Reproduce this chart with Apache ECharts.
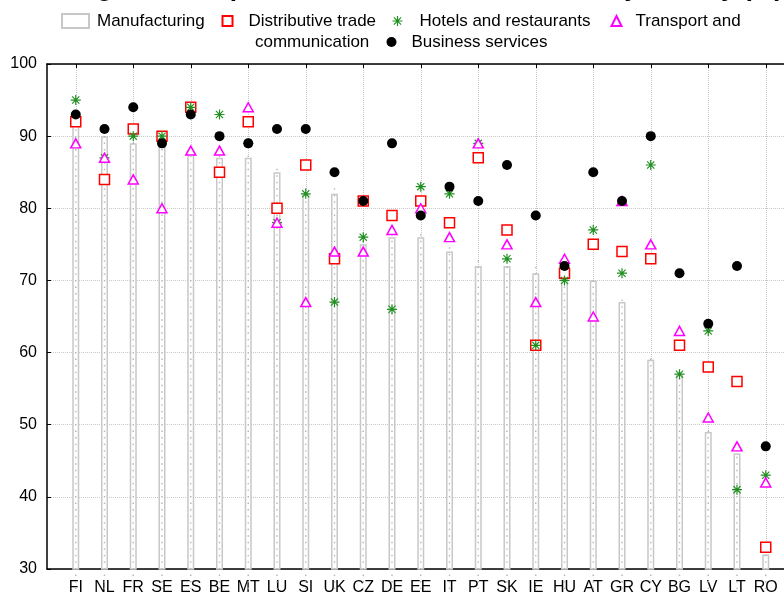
<!DOCTYPE html>
<html>
<head>
<meta charset="utf-8">
<script src="https://cdn.jsdelivr.net/npm/echarts@6/dist/echarts.min.js"></script>
<style>
  html, body { margin: 0; padding: 0; background: #fff; }
  #chart { width: 784px; height: 592px; }
</style>
</head>
<body>
<div id="chart"></div>
<script>
// countries along the x axis
const countries = ['FI', 'NL', 'FR', 'SE', 'ES', 'BE', 'MT', 'LU', 'SI', 'UK', 'CZ', 'DE', 'EE',
  'IT', 'PT', 'SK', 'IE', 'HU', 'AT', 'GR', 'CY', 'BG', 'LV', 'LT', 'RO'];

// values (%) per sector
const manufacturing = [92, 90, 89, 89, 88, 87, 87, 85, 82, 82, 75, 76, 76, 74, 72, 72, 71, 71, 70, 67, 59, 57, 49, 46, 32];
const distributive = [92, 84, 91, 90, 94, 85, 92, 80, 86, 73, 81, 79, 81, 78, 87, 77, 61, 71, 75, 74, 73, 61, 58, 56, 33];
const hotels = [95, 87, 90, 90, 94, 93, 89, 78, 82, 67, 76, 66, 83, 82, 89, 73, 61, 70, 77, 71, 86, 57, 63, 41, 43];
const transport = [89, 87, 84, 80, 88, 88, 94, 78, 67, 74, 74, 77, 80, 76, 89, 75, 67, 73, 65, 81, 75, 63, 51, 47, 42];
const business = [93, 91, 94, 89, 93, 90, 89, 91, 91, 85, 81, 89, 79, 83, 81, 86, 79, 72, 85, 81, 90, 71, 64, 72, 47];

const yMin = 30, yMax = 100, yStep = 10;

// one empty slot on each side so the first/last country sit a full step from the frame
const pad = arr => ['-', ...arr, '-'];
const cats = ['', ...countries, ''];
const everyOther = idx => idx % 2 === 1;

const FONT = '"Liberation Sans", Arial, sans-serif';
const GRID_COLOR = '#c8c8c8';
const ASTERISK = 'path://M0 4.4H10V5.6H0Z M4.4 0H5.6V10H4.4Z M1 1.8L1.8 1L9 8.2L8.2 9Z M8.2 1L9 1.8L1.8 9L1 8.2Z';

const legendText = { color: '#000', fontSize: 17, fontFamily: FONT };

const myChart = echarts.init(document.getElementById('chart'), null, { renderer: 'canvas' });
myChart.setOption({
  animation: false,
  backgroundColor: '#fff',
  title: {
    text: 'Percentage of enterprises with broadband access by activity (%)',
    left: -18,
    top: -29,
    textStyle: { fontSize: 26, fontWeight: 'bold', fontFamily: FONT, color: '#000' }
  },
  legend: [
    {
      data: [{ name: 'Manufacturing', icon: 'rect' }],
      left: 61, top: 12.5, padding: 0,
      itemWidth: 27, itemHeight: 14,
      textStyle: Object.assign({ padding: [0, 0, 0, 3] }, legendText)
    },
    {
      data: ['Distributive trade'],
      left: 221.5, top: 12.5, padding: 0,
      itemWidth: 10, itemHeight: 10,
      textStyle: Object.assign({ padding: [0, 0, 0, 11] }, legendText)
    },
    {
      data: ['Hotels and restaurants'],
      left: 392.5, top: 12.5, padding: 0,
      itemWidth: 10, itemHeight: 10,
      textStyle: Object.assign({ padding: [0, 0, 0, 12] }, legendText)
    },
    {
      data: ['Transport and communication'],
      left: 610.5, top: 12.5, padding: 0,
      itemWidth: 10, itemHeight: 10,
      formatter: () => 'Transport and',
      textStyle: Object.assign({ padding: [0, 0, 0, 9] }, legendText)
    },
    {
      data: ['Business services'],
      left: 386.5, top: 33.5, padding: 0,
      itemWidth: 10, itemHeight: 10,
      textStyle: Object.assign({ padding: [0, 0, 0, 10] }, legendText)
    }
  ],
  graphic: [{
    type: 'text',
    left: 255,
    top: 33.5,
    style: { text: 'communication', fill: '#000', fontSize: 17, fontFamily: FONT }
  }],
  grid: { left: 47, top: 64, bottom: 23, right: -10.5, containLabel: false, outerBoundsMode: 'none' },
  xAxis: [
    {
      type: 'category',
      data: cats,
      boundaryGap: false,
      position: 'bottom',
      axisLine: { lineStyle: { color: '#000', width: 1.5 } },
      axisTick: { inside: true, length: 4, interval: everyOther, lineStyle: { color: '#000' } },
      axisLabel: { interval: 0, margin: 11, color: '#000', fontSize: 16, fontFamily: FONT },
      splitLine: { show: true, interval: everyOther, lineStyle: { color: GRID_COLOR, type: 'dotted', width: 1 } }
    },
    {
      type: 'category',
      data: cats,
      boundaryGap: false,
      position: 'top',
      axisLine: { lineStyle: { color: '#000', width: 1.5 } },
      axisTick: { inside: true, length: 4, interval: everyOther, lineStyle: { color: '#000' } },
      axisLabel: { show: false },
      splitLine: { show: false }
    }
  ],
  yAxis: {
    type: 'value',
    min: yMin,
    max: yMax,
    interval: yStep,
    axisLine: { show: true, lineStyle: { color: '#000', width: 1.5 } },
    axisTick: { show: true, inside: true, length: 4, lineStyle: { color: '#000' } },
    axisLabel: { color: '#000', fontSize: 16, fontFamily: FONT, margin: 10 },
    splitLine: { show: true, lineStyle: { color: GRID_COLOR, type: 'dotted', width: 1 } }
  },
  series: [
    {
      name: 'Manufacturing',
      type: 'bar',
      data: pad(manufacturing),
      barWidth: 7,
      barGap: '-100%',
      itemStyle: { color: '#fff', borderColor: GRID_COLOR, borderWidth: 1.5 },
      z: 2
    },
    {
      name: 'manufacturing-dots',
      type: 'pictorialBar',
      data: pad(manufacturing),
      barWidth: 7,
      barGap: '-100%',
      symbol: 'rect',
      symbolSize: [1.4, 1.4],
      symbolRepeat: true,
      symbolMargin: 2.6,
      itemStyle: { color: '#b4b4b4' },
      silent: true,
      z: 3
    },
    {
      name: 'Distributive trade',
      type: 'scatter',
      data: pad(distributive),
      symbol: 'rect',
      symbolSize: 10,
      itemStyle: { color: '#fff', borderColor: '#ff0000', borderWidth: 1.5, opacity: 1 },
      z: 4
    },
    {
      name: 'Hotels and restaurants',
      type: 'scatter',
      data: pad(hotels),
      symbol: ASTERISK,
      symbolSize: 10,
      itemStyle: { color: '#1f8f1f', opacity: 1 },
      z: 5
    },
    {
      name: 'Transport and communication',
      type: 'scatter',
      data: pad(transport),
      symbol: 'triangle',
      symbolSize: [10, 9],
      itemStyle: { color: '#fff', borderColor: '#ff00ff', borderWidth: 1.5, opacity: 1 },
      z: 6
    },
    {
      name: 'Business services',
      type: 'scatter',
      data: pad(business),
      symbol: 'circle',
      symbolSize: 10,
      itemStyle: { color: '#000', opacity: 1 },
      z: 7
    }
  ]
});
</script>
</body>
</html>
